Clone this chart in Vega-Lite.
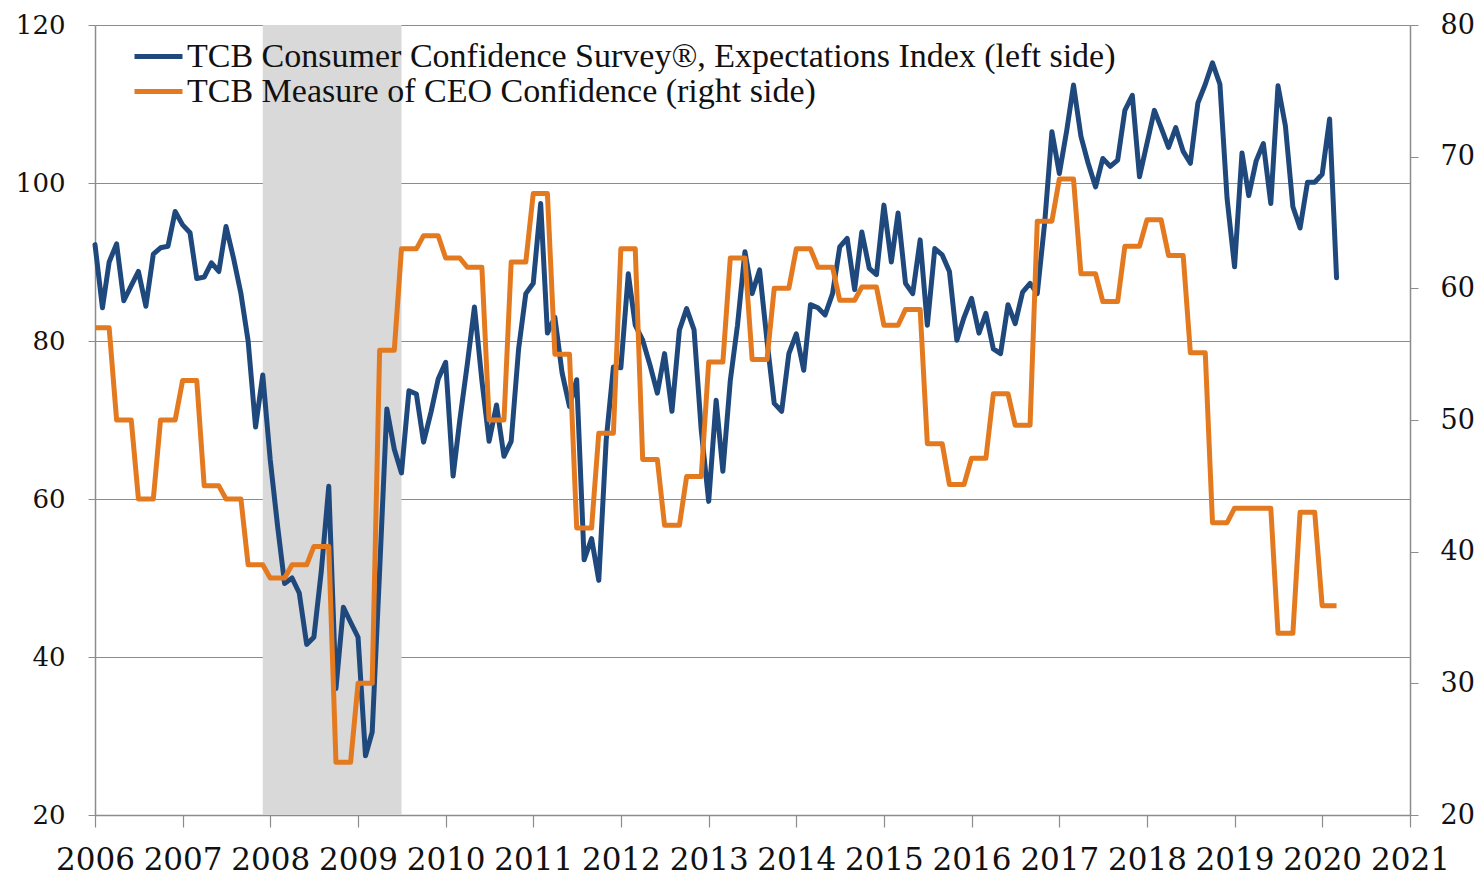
{
  "$schema": "https://vega.github.io/schema/vega-lite/v6.json",
  "width": 1315,
  "height": 790,
  "autosize": {"type": "none"},
  "padding": {"left": 95, "top": 25, "right": 74, "bottom": 63},
  "background": "white",
  "config": {"view": {"stroke": null}},
  "data": {"values": [
    {"date":"2006-01-01","exp":92.2,"ceo":57},{"date":"2006-02-01","exp":84.2,"ceo":57},{"date":"2006-03-01","exp":90,"ceo":57},
    {"date":"2006-04-01","exp":92.3,"ceo":50},{"date":"2006-05-01","exp":85.1,"ceo":50},{"date":"2006-06-01","exp":87,"ceo":50},
    {"date":"2006-07-01","exp":88.8,"ceo":44},{"date":"2006-08-01","exp":84.4,"ceo":44},{"date":"2006-09-01","exp":91,"ceo":44},
    {"date":"2006-10-01","exp":91.8,"ceo":50},{"date":"2006-11-01","exp":92,"ceo":50},{"date":"2006-12-01","exp":96.4,"ceo":50},
    {"date":"2007-01-01","exp":94.7,"ceo":53},{"date":"2007-02-01","exp":93.7,"ceo":53},{"date":"2007-03-01","exp":87.9,"ceo":53},
    {"date":"2007-04-01","exp":88.1,"ceo":45},{"date":"2007-05-01","exp":89.9,"ceo":45},{"date":"2007-06-01","exp":88.8,"ceo":45},
    {"date":"2007-07-01","exp":94.5,"ceo":44},{"date":"2007-08-01","exp":90.5,"ceo":44},{"date":"2007-09-01","exp":86,"ceo":44},
    {"date":"2007-10-01","exp":80,"ceo":39},{"date":"2007-11-01","exp":69.1,"ceo":39},{"date":"2007-12-01","exp":75.7,"ceo":39},
    {"date":"2008-01-01","exp":65,"ceo":38},{"date":"2008-02-01","exp":56.5,"ceo":38},{"date":"2008-03-01","exp":49.3,"ceo":38},
    {"date":"2008-04-01","exp":50,"ceo":39},{"date":"2008-05-01","exp":48.1,"ceo":39},{"date":"2008-06-01","exp":41.6,"ceo":39},
    {"date":"2008-07-01","exp":42.5,"ceo":40.4},{"date":"2008-08-01","exp":50.9,"ceo":40.4},{"date":"2008-09-01","exp":61.6,"ceo":40.4},
    {"date":"2008-10-01","exp":36,"ceo":24},{"date":"2008-11-01","exp":46.3,"ceo":24},{"date":"2008-12-01","exp":44.4,"ceo":24},
    {"date":"2009-01-01","exp":42.5,"ceo":30},{"date":"2009-02-01","exp":27.5,"ceo":30},{"date":"2009-03-01","exp":30.5,"ceo":30},
    {"date":"2009-04-01","exp":51,"ceo":55.3},{"date":"2009-05-01","exp":71.4,"ceo":55.3},{"date":"2009-06-01","exp":66.3,"ceo":55.3},
    {"date":"2009-07-01","exp":63.3,"ceo":63},{"date":"2009-08-01","exp":73.7,"ceo":63},{"date":"2009-09-01","exp":73.3,"ceo":63},
    {"date":"2009-10-01","exp":67.2,"ceo":64},{"date":"2009-11-01","exp":71,"ceo":64},{"date":"2009-12-01","exp":75.2,"ceo":64},
    {"date":"2010-01-01","exp":77.3,"ceo":62.3},{"date":"2010-02-01","exp":62.9,"ceo":62.3},{"date":"2010-03-01","exp":70,"ceo":62.3},
    {"date":"2010-04-01","exp":77,"ceo":61.6},{"date":"2010-05-01","exp":84.3,"ceo":61.6},{"date":"2010-06-01","exp":75,"ceo":61.6},
    {"date":"2010-07-01","exp":67.3,"ceo":50},{"date":"2010-08-01","exp":71.9,"ceo":50},{"date":"2010-09-01","exp":65.4,"ceo":50},
    {"date":"2010-10-01","exp":67.3,"ceo":62},{"date":"2010-11-01","exp":79,"ceo":62},{"date":"2010-12-01","exp":86,"ceo":62},
    {"date":"2011-01-01","exp":87.3,"ceo":67.2},{"date":"2011-02-01","exp":97.4,"ceo":67.2},{"date":"2011-03-01","exp":81,"ceo":67.2},
    {"date":"2011-04-01","exp":83,"ceo":55},{"date":"2011-05-01","exp":76,"ceo":55},{"date":"2011-06-01","exp":71.7,"ceo":55},
    {"date":"2011-07-01","exp":75.1,"ceo":41.8},{"date":"2011-08-01","exp":52.3,"ceo":41.8},{"date":"2011-09-01","exp":55,"ceo":41.8},
    {"date":"2011-10-01","exp":49.7,"ceo":49},{"date":"2011-11-01","exp":67.5,"ceo":49},{"date":"2011-12-01","exp":76.7,"ceo":49},
    {"date":"2012-01-01","exp":76.6,"ceo":63},{"date":"2012-02-01","exp":88.5,"ceo":63},{"date":"2012-03-01","exp":82,"ceo":63},
    {"date":"2012-04-01","exp":80.1,"ceo":47},{"date":"2012-05-01","exp":77,"ceo":47},{"date":"2012-06-01","exp":73.4,"ceo":47},
    {"date":"2012-07-01","exp":78.4,"ceo":42},{"date":"2012-08-01","exp":71.1,"ceo":42},{"date":"2012-09-01","exp":81.4,"ceo":42},
    {"date":"2012-10-01","exp":84.1,"ceo":45.7},{"date":"2012-11-01","exp":81.4,"ceo":45.7},{"date":"2012-12-01","exp":68.7,"ceo":45.7},
    {"date":"2013-01-01","exp":59.7,"ceo":54.4},{"date":"2013-02-01","exp":72.5,"ceo":54.4},{"date":"2013-03-01","exp":63.5,"ceo":54.4},
    {"date":"2013-04-01","exp":75,"ceo":62.3},{"date":"2013-05-01","exp":82,"ceo":62.3},{"date":"2013-06-01","exp":91.3,"ceo":62.3},
    {"date":"2013-07-01","exp":86,"ceo":54.6},{"date":"2013-08-01","exp":89,"ceo":54.6},{"date":"2013-09-01","exp":80,"ceo":54.6},
    {"date":"2013-10-01","exp":72.1,"ceo":60},{"date":"2013-11-01","exp":71.1,"ceo":60},{"date":"2013-12-01","exp":78.4,"ceo":60},
    {"date":"2014-01-01","exp":80.9,"ceo":63},{"date":"2014-02-01","exp":76.3,"ceo":63},{"date":"2014-03-01","exp":84.6,"ceo":63},
    {"date":"2014-04-01","exp":84.2,"ceo":61.6},{"date":"2014-05-01","exp":83.3,"ceo":61.6},{"date":"2014-06-01","exp":86,"ceo":61.6},
    {"date":"2014-07-01","exp":91.9,"ceo":59.1},{"date":"2014-08-01","exp":93,"ceo":59.1},{"date":"2014-09-01","exp":86.5,"ceo":59.1},
    {"date":"2014-10-01","exp":93.8,"ceo":60.1},{"date":"2014-11-01","exp":89.2,"ceo":60.1},{"date":"2014-12-01","exp":88.4,"ceo":60.1},
    {"date":"2015-01-01","exp":97.2,"ceo":57.2},{"date":"2015-02-01","exp":90,"ceo":57.2},{"date":"2015-03-01","exp":96.2,"ceo":57.2},
    {"date":"2015-04-01","exp":87.3,"ceo":58.4},{"date":"2015-05-01","exp":86,"ceo":58.4},{"date":"2015-06-01","exp":92.8,"ceo":58.4},
    {"date":"2015-07-01","exp":82,"ceo":48.2},{"date":"2015-08-01","exp":91.7,"ceo":48.2},{"date":"2015-09-01","exp":90.9,"ceo":48.2},
    {"date":"2015-10-01","exp":88.8,"ceo":45.1},{"date":"2015-11-01","exp":80.1,"ceo":45.1},{"date":"2015-12-01","exp":83,"ceo":45.1},
    {"date":"2016-01-01","exp":85.4,"ceo":47.1},{"date":"2016-02-01","exp":81,"ceo":47.1},{"date":"2016-03-01","exp":83.5,"ceo":47.1},
    {"date":"2016-04-01","exp":79,"ceo":52},{"date":"2016-05-01","exp":78.4,"ceo":52},{"date":"2016-06-01","exp":84.6,"ceo":52},
    {"date":"2016-07-01","exp":82.2,"ceo":49.6},{"date":"2016-08-01","exp":86.2,"ceo":49.6},{"date":"2016-09-01","exp":87.3,"ceo":49.6},
    {"date":"2016-10-01","exp":86,"ceo":65.1},{"date":"2016-11-01","exp":95,"ceo":65.1},{"date":"2016-12-01","exp":106.5,"ceo":65.1},
    {"date":"2017-01-01","exp":101.2,"ceo":68.3},{"date":"2017-02-01","exp":106.7,"ceo":68.3},{"date":"2017-03-01","exp":112.4,"ceo":68.3},
    {"date":"2017-04-01","exp":105.9,"ceo":61.1},{"date":"2017-05-01","exp":102.5,"ceo":61.1},{"date":"2017-06-01","exp":99.5,"ceo":61.1},
    {"date":"2017-07-01","exp":103.1,"ceo":59},{"date":"2017-08-01","exp":102.1,"ceo":59},{"date":"2017-09-01","exp":102.9,"ceo":59},
    {"date":"2017-10-01","exp":109.2,"ceo":63.2},{"date":"2017-11-01","exp":111.1,"ceo":63.2},{"date":"2017-12-01","exp":100.8,"ceo":63.2},
    {"date":"2018-01-01","exp":105,"ceo":65.2},{"date":"2018-02-01","exp":109.2,"ceo":65.2},{"date":"2018-03-01","exp":107,"ceo":65.2},
    {"date":"2018-04-01","exp":104.5,"ceo":62.5},{"date":"2018-05-01","exp":107,"ceo":62.5},{"date":"2018-06-01","exp":104,"ceo":62.5},
    {"date":"2018-07-01","exp":102.5,"ceo":55.1},{"date":"2018-08-01","exp":110.1,"ceo":55.1},{"date":"2018-09-01","exp":112.5,"ceo":55.1},
    {"date":"2018-10-01","exp":115.2,"ceo":42.2},{"date":"2018-11-01","exp":112.5,"ceo":42.2},{"date":"2018-12-01","exp":98,"ceo":42.2},
    {"date":"2019-01-01","exp":89.4,"ceo":43.3},{"date":"2019-02-01","exp":103.8,"ceo":43.3},{"date":"2019-03-01","exp":98.4,"ceo":43.3},
    {"date":"2019-04-01","exp":102.8,"ceo":43.3},{"date":"2019-05-01","exp":105,"ceo":43.3},{"date":"2019-06-01","exp":97.4,"ceo":43.3},
    {"date":"2019-07-01","exp":112.3,"ceo":33.8},{"date":"2019-08-01","exp":107.2,"ceo":33.8},{"date":"2019-09-01","exp":97,"ceo":33.8},
    {"date":"2019-10-01","exp":94.3,"ceo":43},{"date":"2019-11-01","exp":100.1,"ceo":43},{"date":"2019-12-01","exp":100.1,"ceo":43},
    {"date":"2020-01-01","exp":101.1,"ceo":35.9},{"date":"2020-02-01","exp":108.1,"ceo":35.9},{"date":"2020-03-01","exp":88,"ceo":35.9}
  ]},
  "layer": [
    {
      "data": {"values": [{"start": "2007-12-01", "end": "2009-07-01"}]},
      "mark": {"type": "rect", "color": "#D9D9D9"},
      "encoding": {
        "x": {
          "field": "start", "type": "temporal", "title": null,
          "scale": {"type": "utc", "domain": [{"year": 2006, "month": 1, "date": 1, "utc": true}, {"year": 2021, "month": 1, "date": 1, "utc": true}]},
          "axis": {
            "values": [
              {"year": 2006, "utc": true}, {"year": 2007, "utc": true}, {"year": 2008, "utc": true}, {"year": 2009, "utc": true},
              {"year": 2010, "utc": true}, {"year": 2011, "utc": true}, {"year": 2012, "utc": true}, {"year": 2013, "utc": true},
              {"year": 2014, "utc": true}, {"year": 2015, "utc": true}, {"year": 2016, "utc": true}, {"year": 2017, "utc": true},
              {"year": 2018, "utc": true}, {"year": 2019, "utc": true}, {"year": 2020, "utc": true}, {"year": 2021, "utc": true}
            ],
            "format": "%Y",
            "grid": false,
            "labelFont": "DejaVu Serif", "labelFontSize": 31, "labelColor": "#111111",
            "labelOverlap": false, "labelFlush": false, "labelBound": false,
            "tickSize": 12, "tickColor": "#8C8C8C", "tickWidth": 1.2,
            "domainColor": "#8C8C8C", "domainWidth": 1.5,
            "labelPadding": 18
          }
        },
        "x2": {"field": "end"}
      }
    },
    {
      "mark": {"type": "line", "strokeWidth": 5, "strokeJoin": "round", "strokeCap": "round"},
      "encoding": {
        "x": {"field": "date", "type": "temporal", "title": null},
        "y": {
          "field": "exp", "type": "quantitative", "title": null,
          "scale": {"domain": [20, 120], "nice": false, "zero": false},
          "axis": {
            "values": [20, 40, 60, 80, 100, 120],
            "grid": true, "gridColor": "#8C8C8C", "gridWidth": 1.2,
            "labelFont": "DejaVu Serif", "labelFontSize": 26, "labelColor": "#111111",
            "tickSize": 7, "tickColor": "#8C8C8C", "domainColor": "#8C8C8C", "domainWidth": 1.5,
            "labelPadding": 23
          }
        },
        "stroke": {
          "datum": "TCB Consumer Confidence Survey®, Expectations Index (left side)",
          "scale": {"range": ["#1F497D"]},
          "legend": {
            "orient": "none", "legendX": 37, "legendY": 5, "title": null,
            "symbolType": "stroke", "symbolSize": 2304, "symbolStrokeWidth": 5,
            "labelFont": "Liberation Serif", "labelFontSize": 34, "labelColor": "#111111",
            "labelLimit": 0, "padding": 0, "labelOffset": 2
          }
        }
      }
    },
    {
      "mark": {"type": "line", "strokeWidth": 5, "strokeJoin": "round", "strokeCap": "butt"},
      "encoding": {
        "x": {"field": "date", "type": "temporal", "title": null},
        "y": {
          "field": "ceo", "type": "quantitative", "title": null,
          "scale": {"domain": [20, 80], "nice": false, "zero": false},
          "axis": {
            "orient": "right",
            "values": [20, 30, 40, 50, 60, 70, 80],
            "grid": false,
            "labelFont": "DejaVu Serif", "labelFontSize": 27, "labelColor": "#111111",
            "tickSize": 8, "tickColor": "#8C8C8C", "domainColor": "#8C8C8C", "domainWidth": 1.5,
            "labelPadding": 22
          }
        },
        "color": {
          "datum": "TCB Measure of CEO Confidence (right side)",
          "scale": {"range": ["#E47A20"]},
          "legend": {
            "orient": "none", "legendX": 37, "legendY": 40, "title": null,
            "symbolType": "stroke", "symbolSize": 2304, "symbolStrokeWidth": 5,
            "labelFont": "Liberation Serif", "labelFontSize": 34, "labelColor": "#111111",
            "labelLimit": 0, "padding": 0, "labelOffset": 2
          }
        }
      }
    }
  ],
  "resolve": {"scale": {"y": "independent"}}
}
